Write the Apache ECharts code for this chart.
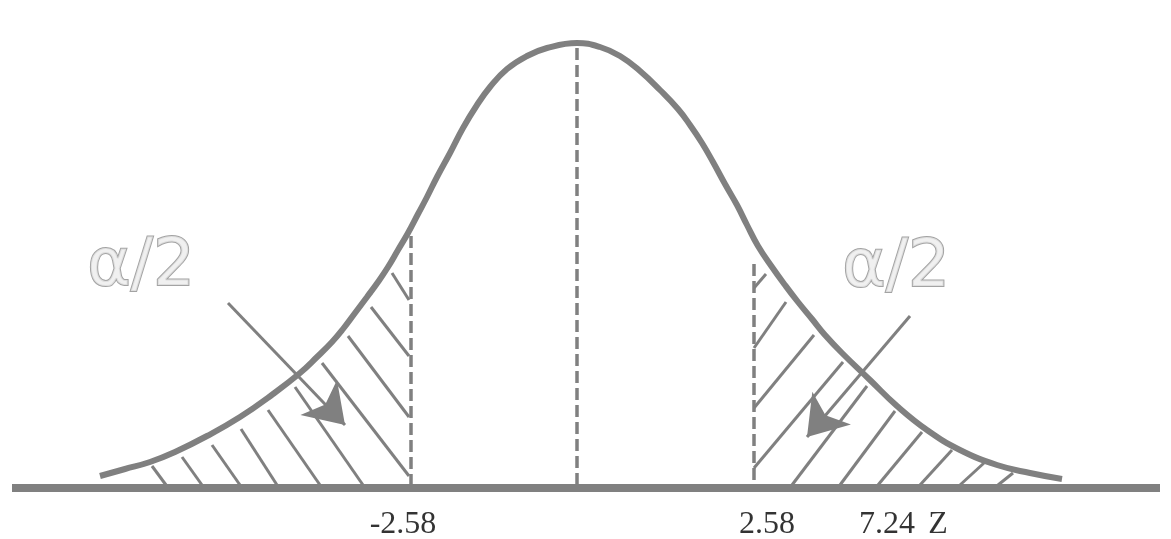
<!DOCTYPE html>
<html>
<head>
<meta charset="utf-8">
<script src="https://cdn.jsdelivr.net/npm/echarts@6/dist/echarts.min.js"></script>
<style>
  html, body { margin: 0; padding: 0; background: #fff; }
  #chart { width: 1171px; height: 539px; }
</style>
</head>
<body>
<div id="chart"></div>
<script>
// bell curve, x along the page, height above the base line
var curveX = [100, 125, 150, 175, 207, 240, 273, 300, 317, 332, 343, 355, 367, 378, 388, 398, 408, 418, 427, 437, 450, 463, 477, 490, 507, 527, 547, 577,
              600, 620, 640, 660, 678, 690, 702, 713, 725, 737, 747, 758, 772, 785, 798, 812, 825, 842, 870, 897, 927, 960, 997, 1030, 1062];
var curveH = [12, 19, 26, 36, 52, 71, 94, 115, 131, 146, 159, 175, 191, 206, 221, 238, 255, 274, 291, 311, 335, 360, 383, 401, 419, 432, 440, 445,
              441, 432, 417, 398, 379, 363, 345, 326, 304, 283, 263, 242, 221, 203, 186, 169, 153, 135, 108, 82, 58, 38, 23, 15, 9];

var baseLine = [12, 1160];

// dashed verticals: x, top height
var dashX = [411, 577, 754];
var dashTop = [252, 440, 224];

// hatching, [x1, h1, x2, h2]
var leftHatch = [
  [152, 22, 166, 3], [182, 31, 202, 3], [212, 43, 240, 3], [241, 59, 277, 3], [268, 78, 320, 3],
  [295, 101, 363, 3], [322, 125, 409, 12], [348, 152, 409, 71], [371, 181, 409, 132], [392, 215, 409, 188]
];
var rightHatch = [
  [754, 200, 766, 214], [754, 140, 786, 186], [754, 80, 814, 153], [754, 20, 843, 126], [792, 3, 867, 102],
  [840, 3, 895, 77], [878, 3, 922, 56], [920, 3, 952, 38], [960, 3, 984, 25], [998, 3, 1013, 15]
];

// arrows, [x1, h1, x2, h2] (tip at the end)
var arrows = [[228, 185, 345, 63], [910, 172, 807, 51]];

var alphaText = ['\u03b1/2', '\u03b1/2'];
var alphaX = [141, 896];
var alphaH = [220, 219];

var zLabels = ['-2.58', '2.58', '7.24', 'Z'];
var zLabelX = [403, 767, 887, 938];
var zLabelH = -37;

window.onload = function () {
  var chart = echarts.init(document.getElementById('chart'));
  var grey = '#808080';

  function segs(list) {
    return list.map(function (s) {
      return [{ coord: [s[0], s[1]] }, { coord: [s[2], s[3]] }];
    });
  }

  var curve = curveX.map(function (x, i) { return [x, curveH[i]]; });
  var dashes = dashX.map(function (x, i) { return [x, dashTop[i], x, 3]; });

  var option = {
    animation: false,
    backgroundColor: '#fff',
    grid: { left: 0, right: 0, top: 0, bottom: 0 },
    xAxis: { type: 'value', min: 0, max: 1171, show: false },
    yAxis: { type: 'value', min: -51, max: 488, show: false },
    series: [
      {
        type: 'line',
        silent: true,
        symbol: 'none',
        data: [],
        markLine: {
          silent: true,
          symbol: 'none',
          label: { show: false },
          lineStyle: { color: grey, width: 3, type: 'solid' },
          data: segs(leftHatch).concat(segs(rightHatch))
        }
      },
      {
        type: 'line',
        silent: true,
        symbol: 'none',
        data: [],
        markLine: {
          silent: true,
          symbol: 'none',
          label: { show: false },
          lineStyle: { color: grey, width: 3.5, type: [12, 5] },
          data: segs(dashes)
        }
      },
      {
        type: 'line',
        silent: true,
        symbol: 'none',
        data: [],
        markLine: {
          silent: true,
          symbol: ['none', 'arrow'],
          symbolSize: 38,
          label: { show: false },
          lineStyle: { color: grey, width: 3, type: 'solid' },
          itemStyle: { color: grey },
          data: segs(arrows)
        }
      },
      {
        name: 'curve',
        type: 'line',
        silent: true,
        symbol: 'none',
        smooth: 0.45,
        lineStyle: { color: grey, width: 6 },
        data: curve
      },
      {
        name: 'base',
        type: 'line',
        silent: true,
        symbol: 'none',
        lineStyle: { color: grey, width: 8 },
        data: [[baseLine[0], 0], [baseLine[1], 0]]
      },
      {
        type: 'scatter',
        silent: true,
        symbolSize: 0,
        label: {
          show: true,
          position: 'inside',
          formatter: function (p) { return alphaText[p.dataIndex]; },
          fontFamily: 'DejaVu Sans',
          fontSize: 66,
          color: '#ececec',
          textBorderColor: '#8c8c8c',
          textBorderWidth: 2
        },
        data: alphaX.map(function (x, i) { return [x, alphaH[i]]; })
      },
      {
        type: 'scatter',
        silent: true,
        symbolSize: 0,
        label: {
          show: true,
          position: 'inside',
          formatter: function (p) { return zLabels[p.dataIndex]; },
          fontFamily: 'Liberation Serif',
          fontSize: 32,
          color: '#000'
        },
        data: zLabelX.map(function (x) { return [x, zLabelH]; })
      }
    ]
  };
  chart.setOption(option);
};
</script>
</body>
</html>
